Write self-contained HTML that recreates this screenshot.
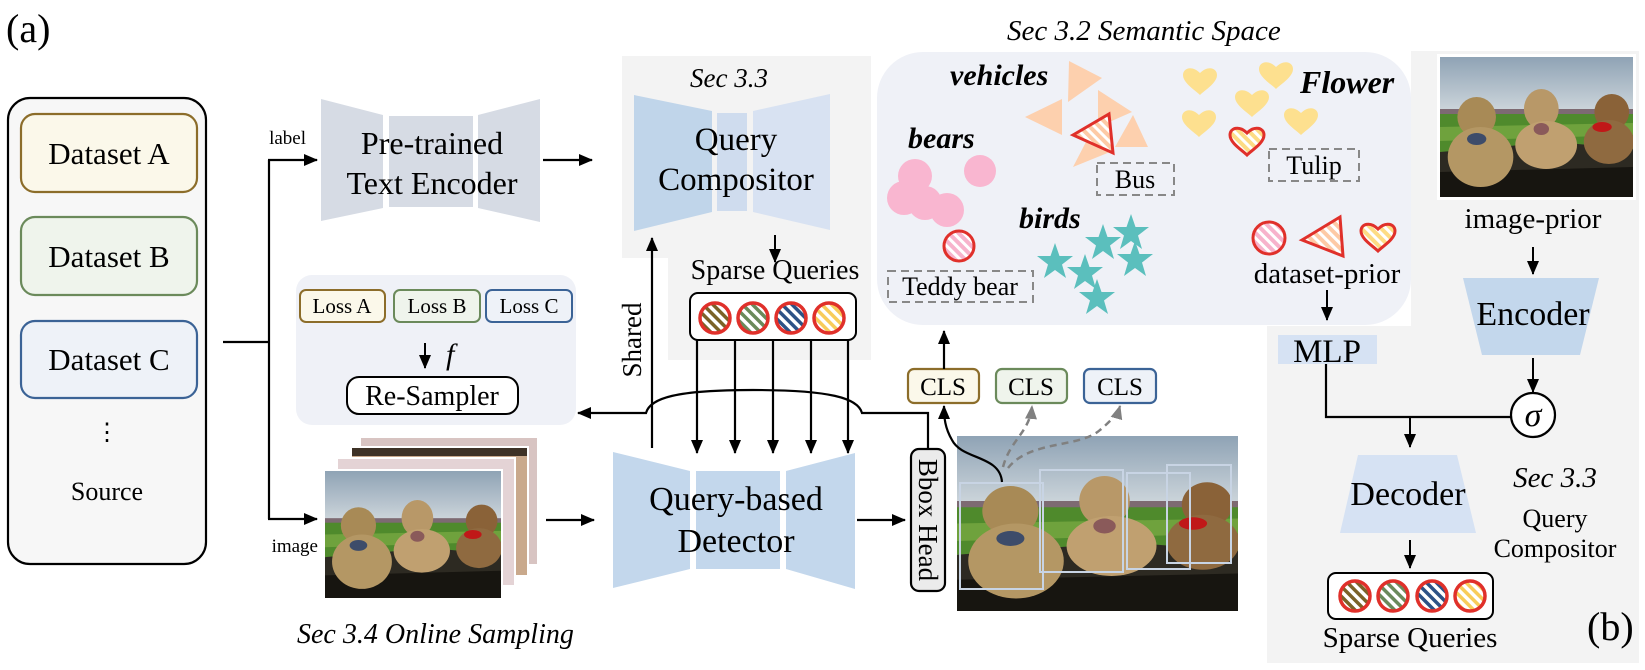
<!DOCTYPE html>
<html><head><meta charset="utf-8"><style>
html,body{margin:0;padding:0;background:#fff;}
svg{display:block;font-family:"Liberation Serif","Times New Roman","DejaVu Serif",serif;}
svg text{font-family:"Liberation Serif","Times New Roman","DejaVu Serif",serif;fill:#000;}
.it{font-style:italic;}
.bi{font-style:italic;font-weight:bold;}
</style></head><body>
<svg width="1645" height="670" viewBox="0 0 1645 670" xmlns="http://www.w3.org/2000/svg" font-family="Liberation Serif, Times New Roman, DejaVu Serif, serif">
<defs>
<marker id="ah" markerUnits="userSpaceOnUse" markerWidth="14" markerHeight="12" refX="13" refY="6" orient="auto"><path d="M0,0 L14,6 L0,12 Z" fill="#000"/></marker>
<marker id="ahg" markerUnits="userSpaceOnUse" markerWidth="14" markerHeight="12" refX="13" refY="6" orient="auto"><path d="M0,0 L14,6 L0,12 Z" fill="#808080"/></marker>
<pattern id="hBr" patternUnits="userSpaceOnUse" width="7" height="7" patternTransform="rotate(-45)"><rect width="7" height="7" fill="#fff"/><rect width="3.5" height="7" fill="#7b6228"/></pattern>
<pattern id="hGr" patternUnits="userSpaceOnUse" width="7" height="7" patternTransform="rotate(-45)"><rect width="7" height="7" fill="#fff"/><rect width="3.5" height="7" fill="#6b8a5b"/></pattern>
<pattern id="hBl" patternUnits="userSpaceOnUse" width="7" height="7" patternTransform="rotate(-45)"><rect width="7" height="7" fill="#fff"/><rect width="3.5" height="7" fill="#2d5286"/></pattern>
<pattern id="hYe" patternUnits="userSpaceOnUse" width="7" height="7" patternTransform="rotate(-45)"><rect width="7" height="7" fill="#fff"/><rect width="3.5" height="7" fill="#f8cc5a"/></pattern>
<pattern id="hPk" patternUnits="userSpaceOnUse" width="7" height="7" patternTransform="rotate(-45)"><rect width="7" height="7" fill="#fff"/><rect width="4" height="7" fill="#f7b3cc"/></pattern>
<pattern id="hPe" patternUnits="userSpaceOnUse" width="7" height="7" patternTransform="rotate(-45)"><rect width="7" height="7" fill="#fff"/><rect width="4" height="7" fill="#fdcaa6"/></pattern>
<pattern id="hYl" patternUnits="userSpaceOnUse" width="7" height="7" patternTransform="rotate(-45)"><rect width="7" height="7" fill="#fff"/><rect width="4" height="7" fill="#fddc85"/></pattern>
<linearGradient id="sky" x1="0" y1="0" x2="0" y2="1"><stop offset="0" stop-color="#8fa3b5"/><stop offset="0.5" stop-color="#dfe4e6"/><stop offset="1" stop-color="#c9d0d4"/></linearGradient>
<symbol id="photo" viewBox="0 0 200 140" preserveAspectRatio="none">
<rect width="200" height="140" fill="url(#sky)"/>
<rect y="52" width="200" height="6" fill="#7d6a72"/>
<rect y="57" width="200" height="38" fill="#4f8a2c"/>
<path d="M0,70 L200,66 L200,78 L0,84 Z" fill="#6fa23d"/>
<path d="M0,95 L120,85 L200,92 L200,140 L0,140 Z" fill="#2d2a22"/>
<path d="M0,115 L200,110 L200,140 L0,140 Z" fill="#171510"/>
<ellipse cx="38" cy="60" rx="20" ry="20" fill="#a88a56"/>
<ellipse cx="42" cy="100" rx="34" ry="30" fill="#b49764"/>
<ellipse cx="38" cy="82" rx="10" ry="6" fill="#3d4c6a"/>
<ellipse cx="105" cy="52" rx="18" ry="20" fill="#b89868"/>
<ellipse cx="110" cy="88" rx="32" ry="24" fill="#c0a070"/>
<ellipse cx="105" cy="72" rx="8" ry="6" fill="#8a5a5a"/>
<ellipse cx="178" cy="55" rx="18" ry="18" fill="#8a6238"/>
<ellipse cx="175" cy="85" rx="26" ry="22" fill="#8f6a40"/>
<ellipse cx="168" cy="70" rx="10" ry="5" fill="#c01818"/>
</symbol>
<path id="heart" d="M0,13 C-5,8 -17,1 -17,-7 C-17,-14 -8,-17 0,-9 C8,-17 17,-14 17,-7 C17,1 5,8 0,13 Z"/>
<path id="star" d="M0,-19 L4.5,-6 L18,-6 L7,2.5 L11,16 L0,8 L-11,16 L-7,2.5 L-18,-6 L-4.5,-6 Z"/>
</defs>

<text x="6" y="42" font-size="40">(a)</text>

<rect x="8" y="98" width="198" height="466" rx="22" fill="#f7f7f7" stroke="#000" stroke-width="2.2"/>
<rect x="21" y="114" width="176" height="78" rx="14" fill="#fbf8ea" stroke="#8c6d2a" stroke-width="2.2"/>
<rect x="21" y="217" width="176" height="78" rx="14" fill="#eff4ec" stroke="#6b8a5b" stroke-width="2.2"/>
<rect x="21" y="321" width="176" height="77" rx="14" fill="#eef2f8" stroke="#3b6396" stroke-width="2.2"/>
<text x="109" y="164" font-size="31" text-anchor="middle">Dataset A</text>
<text x="109" y="267" font-size="31" text-anchor="middle">Dataset B</text>
<text x="109" y="370" font-size="31" text-anchor="middle">Dataset C</text>
<text x="107" y="440" font-size="24" text-anchor="middle">⋮</text>
<text x="107" y="500" font-size="26" text-anchor="middle">Source</text>

<path d="M223 342 H269" stroke="#000" stroke-width="2.2" fill="none"/>
<path d="M269 160 V519" stroke="#000" stroke-width="2.2" fill="none"/>
<path d="M268 160 H317" stroke="#000" stroke-width="2.2" fill="none" marker-end="url(#ah)"/>
<path d="M268 519 H317" stroke="#000" stroke-width="2.2" fill="none" marker-end="url(#ah)"/>
<text x="306" y="144" font-size="19" text-anchor="end">label</text>
<text x="318" y="552" font-size="19" text-anchor="end">image</text>

<path d="M321 99 L383 115 L383 208 L321 221 Z" fill="#d6dbe4"/>
<rect x="389" y="116" width="84" height="91" fill="#d6dbe4"/>
<path d="M478 115 L540 99 L540 222 L478 208 Z" fill="#d6dbe4"/>
<text x="432" y="154" font-size="32" text-anchor="middle">Pre-trained</text>
<text x="432" y="194" font-size="32" text-anchor="middle">Text Encoder</text>
<path d="M543 160 H592" stroke="#000" stroke-width="2.2" marker-end="url(#ah)"/>

<path d="M622 56 H871 V360 H668 V258 H622 Z" fill="#f3f3f3"/>
<text x="729" y="87" font-size="27" class="it" font-style="italic" text-anchor="middle">Sec 3.3</text>
<path d="M634 95 L712 111 L712 212 L634 231 Z" fill="#c0d5ea"/>
<rect x="717" y="113" width="30" height="98" fill="#cfdcee"/>
<path d="M753 111 L830 94 L830 230 L753 212 Z" fill="#d8e2f2"/>
<text x="736" y="150" font-size="33" text-anchor="middle">Query</text>
<text x="736" y="190" font-size="33" text-anchor="middle">Compositor</text>
<path d="M775 235 V262" stroke="#000" stroke-width="2" marker-end="url(#ah)"/>
<text x="775" y="279" font-size="28" text-anchor="middle">Sparse Queries</text>
<rect x="690" y="293" width="166" height="47" rx="8" fill="#fff" stroke="#000" stroke-width="2"/>
<circle cx="715" cy="318" r="15" fill="url(#hBr)" stroke="#e0302a" stroke-width="3.5"/>
<circle cx="753" cy="318" r="15" fill="url(#hGr)" stroke="#e0302a" stroke-width="3.5"/>
<circle cx="791" cy="318" r="15" fill="url(#hBl)" stroke="#e0302a" stroke-width="3.5"/>
<circle cx="829" cy="318" r="15" fill="url(#hYe)" stroke="#e0302a" stroke-width="3.5"/>

<rect x="296" y="275" width="280" height="150" rx="16" fill="#eff1f7"/>
<rect x="300" y="290" width="85" height="32" rx="6" fill="#fbf8ea" stroke="#8c6d2a" stroke-width="2"/>
<rect x="394" y="290" width="86" height="32" rx="6" fill="#eff4ec" stroke="#6b8a5b" stroke-width="2"/>
<rect x="486" y="290" width="86" height="32" rx="6" fill="#eef2f8" stroke="#3b6396" stroke-width="2"/>
<text x="342" y="313" font-size="21" text-anchor="middle">Loss A</text>
<text x="437" y="313" font-size="21" text-anchor="middle">Loss B</text>
<text x="529" y="313" font-size="21" text-anchor="middle">Loss C</text>
<path d="M425 343 V368" stroke="#000" stroke-width="2" marker-end="url(#ah)"/>
<text x="446" y="364" font-size="30" class="it" font-style="italic">f</text>
<rect x="347" y="377" width="171" height="37" rx="12" fill="#fff" stroke="#000" stroke-width="2"/>
<text x="432" y="405" font-size="28" text-anchor="middle">Re-Sampler</text>

<path d="M652 448 V238" stroke="#000" stroke-width="2.2" marker-end="url(#ah)"/>
<text transform="translate(641,340) rotate(-90)" font-size="27" text-anchor="middle">Shared</text>

<path d="M928 448 V413 H862 C858 398 830 390 753 390 C676 390 650 398 646 413 H578" stroke="#000" stroke-width="2.2" fill="none" marker-end="url(#ah)"/>

<g stroke="#000" stroke-width="2.2">
<path d="M697 340 V453" marker-end="url(#ah)"/>
<path d="M735 340 V453" marker-end="url(#ah)"/>
<path d="M773 340 V453" marker-end="url(#ah)"/>
<path d="M811 340 V453" marker-end="url(#ah)"/>
<path d="M848 340 V453" marker-end="url(#ah)"/>
</g>

<rect x="359" y="436" width="180" height="130" fill="#fff"/>
<rect x="361" y="438" width="176" height="126" fill="#d8c4c2"/>
<rect x="350" y="446" width="179" height="131" fill="#fff"/>
<rect x="352" y="448" width="175" height="127" fill="#c9a98c"/><rect x="352" y="448" width="175" height="8" fill="#3e3226"/>
<rect x="336" y="457" width="180" height="130" fill="#fff"/>
<rect x="338" y="459" width="176" height="126" fill="#e4d3d5"/>
<rect x="323" y="469" width="180" height="130" fill="#fff"/>
<use href="#photo" x="325" y="471" width="176" height="127"/>
<path d="M546 520 H594" stroke="#000" stroke-width="2.2" marker-end="url(#ah)"/>
<text x="297" y="643" font-size="28" class="it" font-style="italic">Sec 3.4 Online Sampling</text>

<path d="M613 452 L690 471 L690 569 L613 588 Z" fill="#c3d7ec"/>
<rect x="696" y="471" width="84" height="98" fill="#c3d7ec"/>
<path d="M786 471 L855 453 L855 589 L786 569 Z" fill="#c3d7ec"/>
<text x="736" y="510" font-size="34" text-anchor="middle">Query-based</text>
<text x="736" y="552" font-size="34" text-anchor="middle">Detector</text>
<path d="M857 520 H905" stroke="#000" stroke-width="2.2" marker-end="url(#ah)"/>

<rect x="911" y="449" width="34" height="142" rx="8" fill="#ebebeb" stroke="#000" stroke-width="2.2"/>
<text transform="translate(919,520) rotate(90)" font-size="27" text-anchor="middle">Bbox Head</text>

<use href="#photo" x="957" y="436" width="281" height="175"/>
<g fill="none" stroke="#c8d4e4" stroke-width="2">
<rect x="960" y="483" width="83" height="106"/>
<rect x="1040" y="470" width="83" height="102"/>
<rect x="1127" y="473" width="63" height="96"/>
<rect x="1167" y="465" width="64" height="98"/>
</g>
<path d="M1002 482 C1000 455 962 460 952 440 C945 428 944 418 944 406" stroke="#000" stroke-width="2.2" fill="none" marker-end="url(#ah)"/>
<g stroke="#808080" stroke-width="2.5" stroke-dasharray="7 5" fill="none">
<path d="M1003 467 C1010 440 1030 432 1032 406" marker-end="url(#ahg)"/>
<path d="M1008 468 C1030 440 1080 448 1100 430 C1112 420 1118 413 1120 406" marker-end="url(#ahg)"/>
</g>

<rect x="908" y="369" width="71" height="34" rx="6" fill="#fbf8ea" stroke="#8c6d2a" stroke-width="2.2"/>
<rect x="996" y="369" width="71" height="34" rx="6" fill="#eff4ec" stroke="#6b8a5b" stroke-width="2.2"/>
<rect x="1084" y="369" width="72" height="34" rx="6" fill="#eef2f8" stroke="#3b6396" stroke-width="2.2"/>
<text x="943" y="395" font-size="25" text-anchor="middle">CLS</text>
<text x="1031" y="395" font-size="25" text-anchor="middle">CLS</text>
<text x="1120" y="395" font-size="25" text-anchor="middle">CLS</text>
<path d="M944 369 V331" stroke="#000" stroke-width="2.2" marker-end="url(#ah)"/>

<rect x="1411" y="51" width="228" height="612" fill="#f3f3f3"/>
<rect x="1267" y="326" width="145" height="337" fill="#f3f3f3"/>

<text x="1007" y="40" font-size="29" class="it" font-style="italic">Sec 3.2 Semantic Space</text>
<rect x="877" y="52" width="534" height="273" rx="46" fill="#eff1f7"/>
<text x="950" y="85" font-size="30" class="bi" font-style="italic" font-weight="bold">vehicles</text>
<g fill="#fdd0ae">
<path d="M1069 61 L1102 78 L1068 102 Z"/>
<path d="M1025 117 L1062 99 L1062 135 Z"/>
<path d="M1098 90 L1132 112 L1098 127 Z"/>
<path d="M1133 115 L1148 147 L1115 147 Z"/>
<path d="M1073 167 L1087 140 L1110 152 Z"/>
</g>
<path d="M1073 135 L1109 114 L1113 153 Z" fill="url(#hPe)" stroke="#e0302a" stroke-width="3"/>
<rect x="1097" y="163" width="77" height="32" fill="none" stroke="#888" stroke-width="2" stroke-dasharray="8 5"/>
<text x="1135" y="188" font-size="26" text-anchor="middle">Bus</text>
<text x="908" y="148" font-size="30" class="bi" font-style="italic" font-weight="bold">bears</text>
<g fill="#f9b6d0">
<circle cx="980" cy="171" r="16"/>
<circle cx="915" cy="176" r="17"/>
<circle cx="904" cy="198" r="17"/>
<circle cx="925" cy="203" r="17"/>
<circle cx="947" cy="210" r="17"/>
</g>
<circle cx="959" cy="246" r="15" fill="url(#hPk)" stroke="#e0302a" stroke-width="3"/>
<rect x="888" y="271" width="145" height="31" fill="none" stroke="#888" stroke-width="2" stroke-dasharray="8 5"/>
<text x="960" y="295" font-size="26" text-anchor="middle">Teddy bear</text>
<text x="1019" y="228" font-size="30" class="bi" font-style="italic" font-weight="bold">birds</text>
<g fill="#5bbfbd">
<use href="#star" x="1055" y="262"/>
<use href="#star" x="1103" y="243"/>
<use href="#star" x="1131" y="233"/>
<use href="#star" x="1085" y="273"/>
<use href="#star" x="1135" y="260"/>
<use href="#star" x="1097" y="298"/>
</g>
<g fill="#fde08f">
<use href="#heart" x="1200" y="82"/>
<use href="#heart" x="1276" y="76"/>
<use href="#heart" x="1252" y="104"/>
<use href="#heart" x="1199" y="124"/>
<use href="#heart" x="1301" y="122"/>
</g>
<use href="#heart" x="1247" y="142" fill="url(#hYl)" stroke="#e0302a" stroke-width="3"/>
<text x="1300" y="93" font-size="32" class="bi" font-style="italic" font-weight="bold">Flower</text>
<rect x="1269" y="149" width="90" height="32" fill="none" stroke="#888" stroke-width="2" stroke-dasharray="8 5"/>
<text x="1314" y="174" font-size="26" text-anchor="middle">Tulip</text>
<circle cx="1269" cy="238" r="16" fill="url(#hPk)" stroke="#e0302a" stroke-width="3"/>
<path d="M1302 240 L1340 217 L1343 256 Z" fill="url(#hPe)" stroke="#e0302a" stroke-width="3"/>
<use href="#heart" x="1378" y="238" fill="url(#hYl)" stroke="#e0302a" stroke-width="3"/>
<text x="1327" y="283" font-size="29" text-anchor="middle">dataset-prior</text>
<path d="M1327 290 V320" stroke="#000" stroke-width="2" marker-end="url(#ah)"/>

<rect x="1437" y="54" width="199" height="146" fill="#fff"/>
<use href="#photo" x="1440" y="57" width="193" height="140"/>
<text x="1533" y="228" font-size="29" text-anchor="middle">image-prior</text>
<path d="M1533 247 V274" stroke="#000" stroke-width="2" marker-end="url(#ah)"/>
<path d="M1463 278 L1599 278 L1580 355 L1482 355 Z" fill="#c3d7ec"/>
<text x="1533" y="325" font-size="34" text-anchor="middle">Encoder</text>
<path d="M1533 358 V392" stroke="#000" stroke-width="2" marker-end="url(#ah)"/>
<rect x="1278" y="335" width="99" height="29" fill="#d6e2f3"/>
<text x="1327" y="362" font-size="33" text-anchor="middle">MLP</text>
<path d="M1326 364 V417 H1511" stroke="#000" stroke-width="2.2" fill="none"/>
<circle cx="1533" cy="415" r="22" fill="#fff" stroke="#000" stroke-width="2.2"/>
<text x="1533" y="426" font-size="34" class="it" font-style="italic" text-anchor="middle">σ</text>
<path d="M1410 417 V447" stroke="#000" stroke-width="2" marker-end="url(#ah)"/>
<path d="M1358 455 L1457 455 L1476 533 L1340 533 Z" fill="#d6e2f3"/>
<text x="1408" y="505" font-size="34" text-anchor="middle">Decoder</text>
<path d="M1410 540 V568" stroke="#000" stroke-width="2" marker-end="url(#ah)"/>
<rect x="1328" y="573" width="165" height="46" rx="8" fill="#fff" stroke="#000" stroke-width="2"/>
<circle cx="1355" cy="596" r="15" fill="url(#hBr)" stroke="#e0302a" stroke-width="3.5"/>
<circle cx="1393" cy="596" r="15" fill="url(#hGr)" stroke="#e0302a" stroke-width="3.5"/>
<circle cx="1432" cy="596" r="15" fill="url(#hBl)" stroke="#e0302a" stroke-width="3.5"/>
<circle cx="1470" cy="596" r="15" fill="url(#hYe)" stroke="#e0302a" stroke-width="3.5"/>
<text x="1410" y="647" font-size="29" text-anchor="middle">Sparse Queries</text>
<text x="1555" y="487" font-size="29" class="it" font-style="italic" text-anchor="middle">Sec 3.3</text>
<text x="1555" y="527" font-size="26" text-anchor="middle">Query</text>
<text x="1555" y="557" font-size="26" text-anchor="middle">Compositor</text>
<text x="1587" y="640" font-size="40">(b)</text>
</svg>
</body></html>
